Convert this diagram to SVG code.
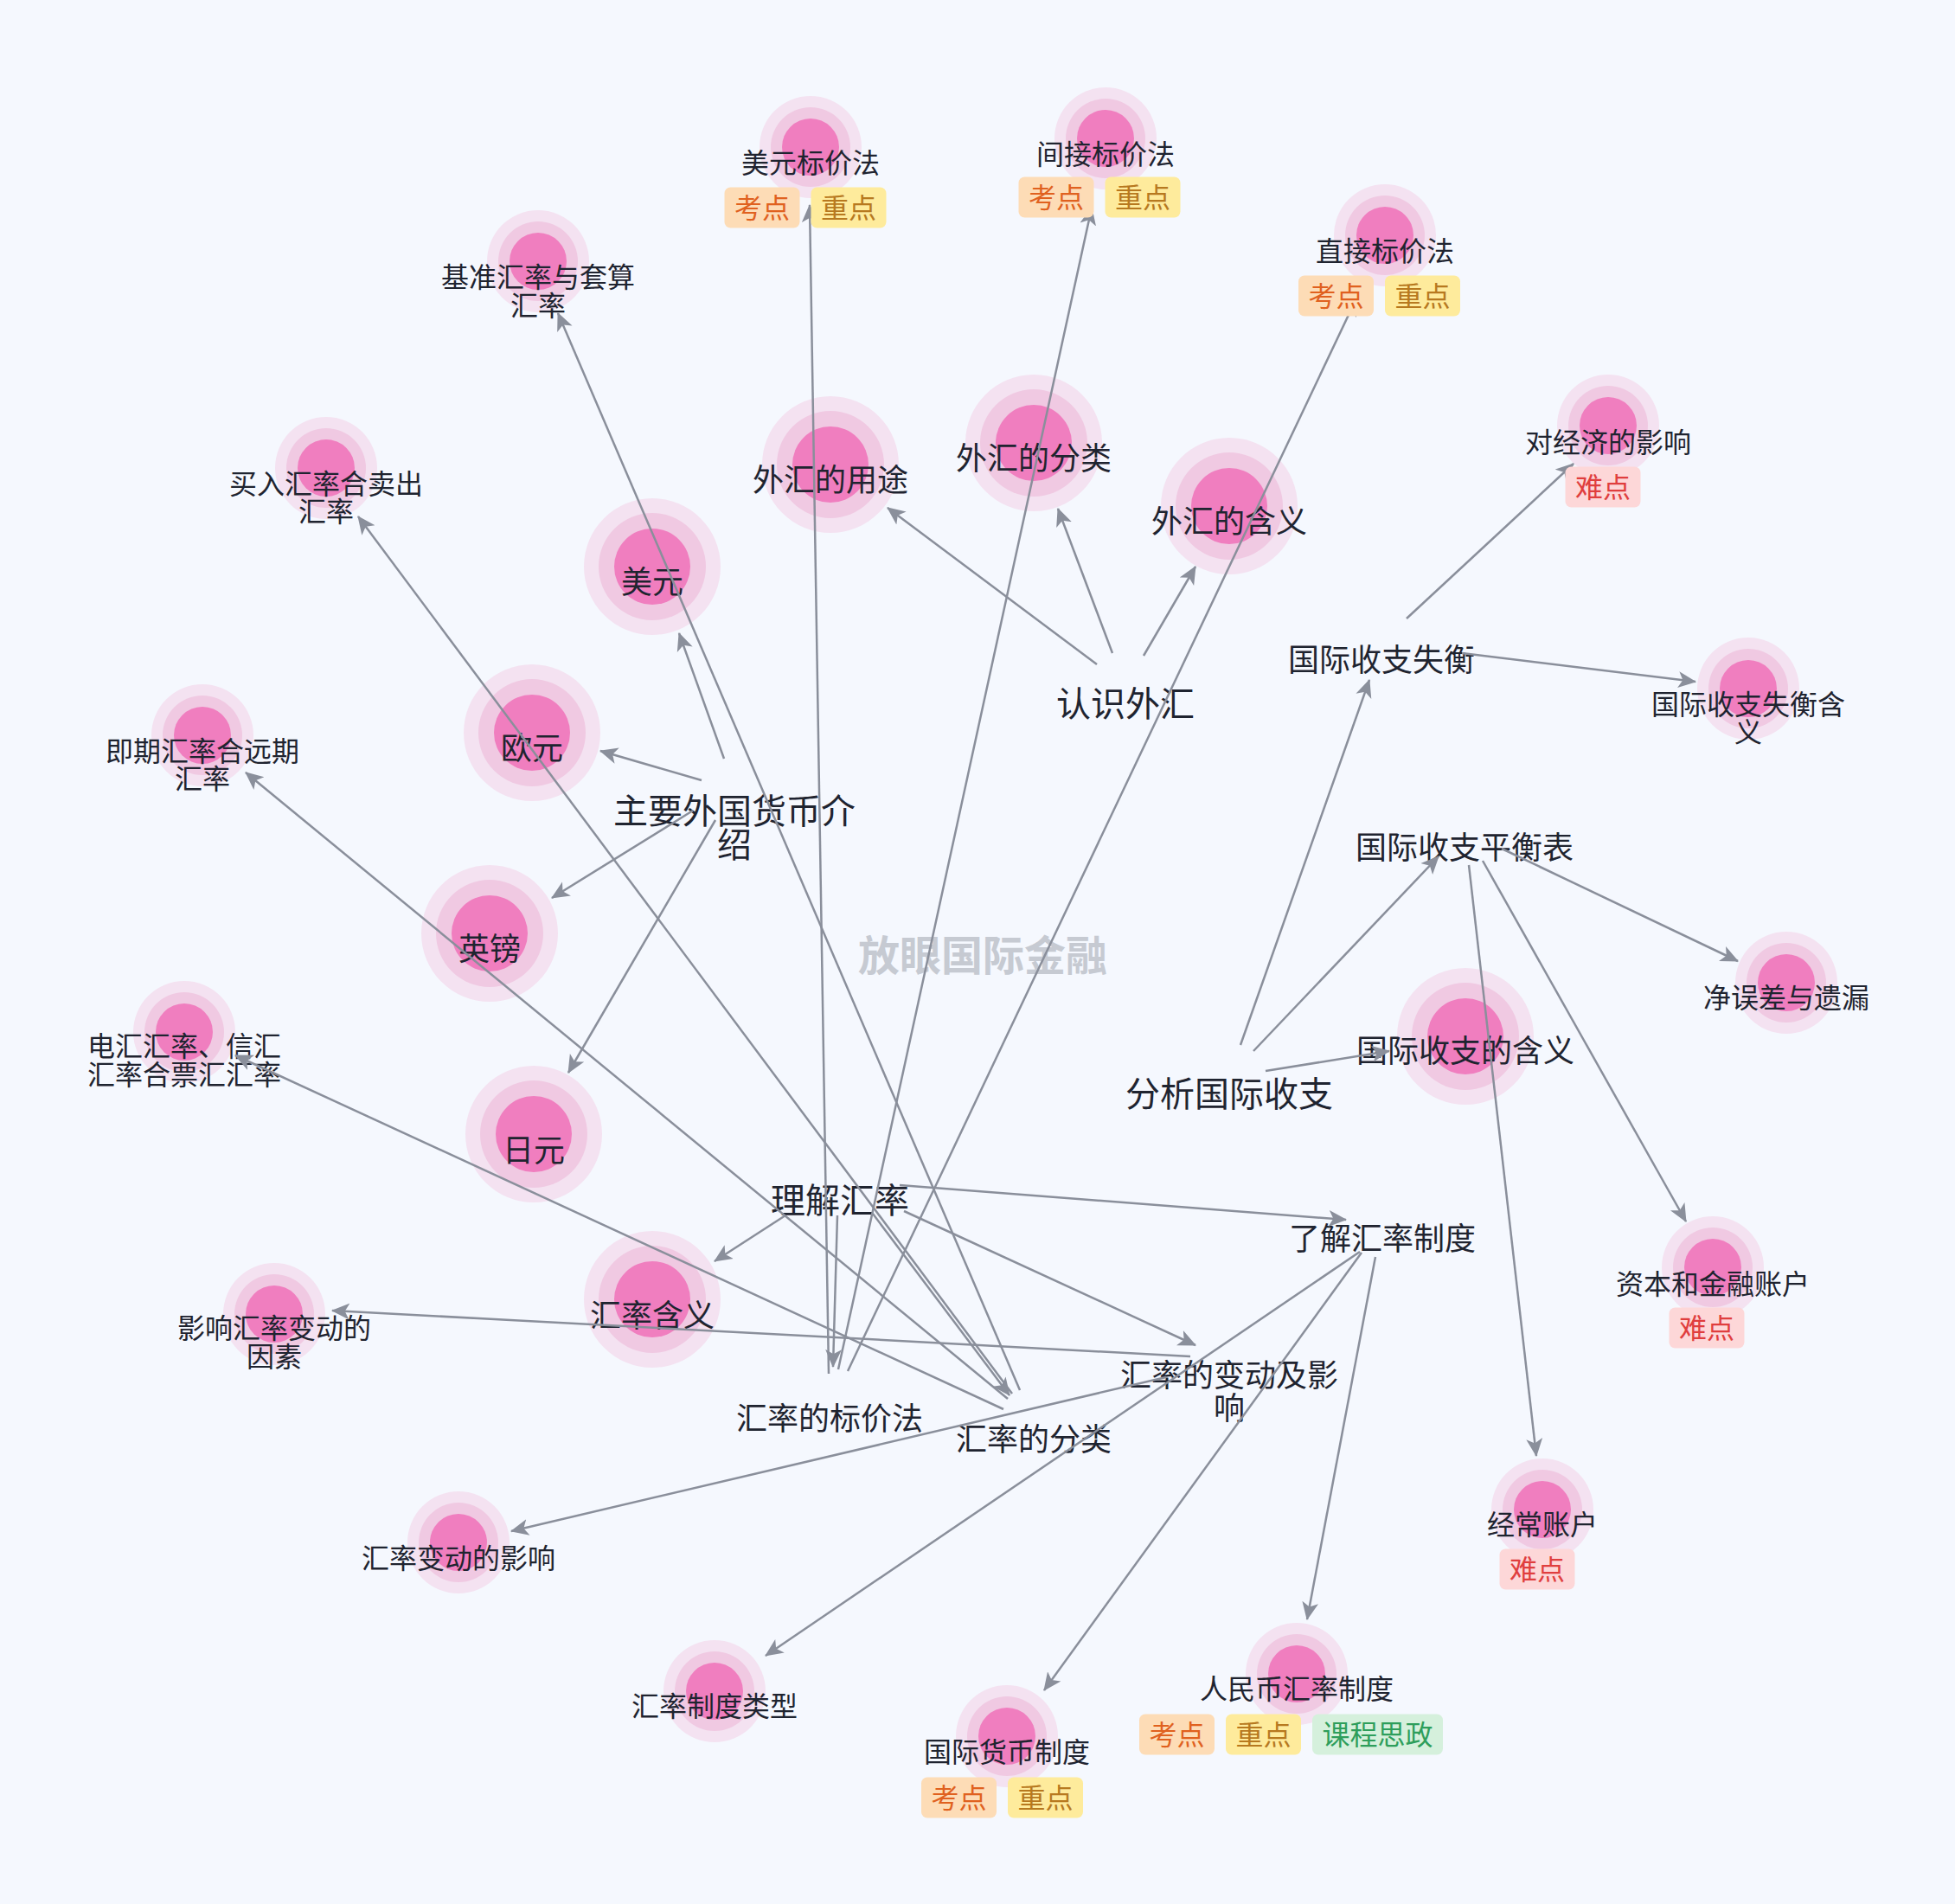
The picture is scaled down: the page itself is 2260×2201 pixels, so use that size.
<svg xmlns="http://www.w3.org/2000/svg" width="2260" height="2201" viewBox="0 0 2260 2201">
<defs>
<style>
.h3{fill:#F4E2F1}
.h2{fill:#F0C9E2}
.h1{fill:#F07EBF}
text{font-family:"Noto Sans CJK SC","Noto Sans",sans-serif;text-anchor:middle;dominant-baseline:central;fill:#1F2430}
.f32{font-size:32px}
.f36{font-size:36px}
.f40{font-size:40px}
.wm{font-size:48px;font-weight:bold;fill:#C6CAD2}
.edge{stroke:#8A8F9B;stroke-width:2.5;fill:none;marker-end:url(#arr)}
.kd{fill:#FDDCB6}.tkd{fill:#E0611F;font-size:32px}
.zd{fill:#FEEB9C}.tzd{fill:#B7791F;font-size:32px}
.nd{fill:#FDD7D8}.tnd{fill:#E03E3E;font-size:32px}
.sz{fill:#D5F0DC}.tsz{fill:#2E9E5B;font-size:32px}
</style>
<marker id="arr" viewBox="0 0 20 20" refX="19" refY="10" markerWidth="21" markerHeight="21" markerUnits="userSpaceOnUse" orient="auto"><path d="M0,1 L20,10 L0,19 L5,10 Z" fill="#8A8F9B"/></marker>
</defs>
<rect width="2260" height="2201" fill="#F5F8FE"/>
<text id="root" class="wm" x="1136" y="1101">放眼国际金融</text>

<g id="nodes">
<g id="n-usd-quote"><circle cx="937" cy="170" r="59" class="h3"/><circle cx="937" cy="170" r="46" class="h2"/><circle cx="937" cy="170" r="33" class="h1"/><text class="f32" x="937" y="186">美元标价法</text></g>
<g id="n-indirect"><circle cx="1278" cy="160" r="59" class="h3"/><circle cx="1278" cy="160" r="46" class="h2"/><circle cx="1278" cy="160" r="33" class="h1"/><text class="f32" x="1278" y="176">间接标价法</text></g>
<g id="n-direct"><circle cx="1601" cy="272" r="59" class="h3"/><circle cx="1601" cy="272" r="46" class="h2"/><circle cx="1601" cy="272" r="33" class="h1"/><text class="f32" x="1601" y="288">直接标价法</text></g>
<g id="n-base"><circle cx="622" cy="302" r="59" class="h3"/><circle cx="622" cy="302" r="46" class="h2"/><circle cx="622" cy="302" r="33" class="h1"/><text class="f32" x="622" y="318">基准汇率与套算</text><text class="f32" x="622" y="351">汇率</text></g>
<g id="n-buysell"><circle cx="377" cy="541" r="59" class="h3"/><circle cx="377" cy="541" r="46" class="h2"/><circle cx="377" cy="541" r="33" class="h1"/><text class="f32" x="377" y="557">买入汇率合卖出</text><text class="f32" x="377" y="589">汇率</text></g>
<g id="n-spot"><circle cx="234" cy="850" r="59" class="h3"/><circle cx="234" cy="850" r="46" class="h2"/><circle cx="234" cy="850" r="33" class="h1"/><text class="f32" x="234" y="866">即期汇率合远期</text><text class="f32" x="234" y="898">汇率</text></g>
<g id="n-wire"><circle cx="213" cy="1193" r="59" class="h3"/><circle cx="213" cy="1193" r="46" class="h2"/><circle cx="213" cy="1193" r="33" class="h1"/><text class="f32" x="213" y="1207">电汇汇率、信汇</text><text class="f32" x="213" y="1240">汇率合票汇汇率</text></g>
<g id="n-factors"><circle cx="317" cy="1519" r="59" class="h3"/><circle cx="317" cy="1519" r="46" class="h2"/><circle cx="317" cy="1519" r="33" class="h1"/><text class="f32" x="317" y="1533">影响汇率变动的</text><text class="f32" x="317" y="1566">因素</text></g>
<g id="n-impact"><circle cx="530" cy="1783" r="59" class="h3"/><circle cx="530" cy="1783" r="46" class="h2"/><circle cx="530" cy="1783" r="33" class="h1"/><text class="f32" x="530" y="1799">汇率变动的影响</text></g>
<g id="n-regime-type"><circle cx="826" cy="1955" r="59" class="h3"/><circle cx="826" cy="1955" r="46" class="h2"/><circle cx="826" cy="1955" r="33" class="h1"/><text class="f32" x="826" y="1970">汇率制度类型</text></g>
<g id="n-intl-monetary"><circle cx="1164" cy="2007" r="59" class="h3"/><circle cx="1164" cy="2007" r="46" class="h2"/><circle cx="1164" cy="2007" r="33" class="h1"/><text class="f32" x="1164" y="2023">国际货币制度</text></g>
<g id="n-rmb"><circle cx="1499" cy="1935" r="59" class="h3"/><circle cx="1499" cy="1935" r="46" class="h2"/><circle cx="1499" cy="1935" r="33" class="h1"/><text class="f32" x="1499" y="1950">人民币汇率制度</text></g>
<g id="n-current"><circle cx="1783" cy="1745" r="59" class="h3"/><circle cx="1783" cy="1745" r="46" class="h2"/><circle cx="1783" cy="1745" r="33" class="h1"/><text class="f32" x="1783" y="1760">经常账户</text></g>
<g id="n-capital"><circle cx="1980" cy="1465" r="59" class="h3"/><circle cx="1980" cy="1465" r="46" class="h2"/><circle cx="1980" cy="1465" r="33" class="h1"/><text class="f32" x="1980" y="1482">资本和金融账户</text></g>
<g id="n-errors"><circle cx="2065" cy="1136" r="59" class="h3"/><circle cx="2065" cy="1136" r="46" class="h2"/><circle cx="2065" cy="1136" r="33" class="h1"/><text class="f32" x="2065" y="1151">净误差与遗漏</text></g>
<g id="n-imbalance-def"><circle cx="2021" cy="796" r="59" class="h3"/><circle cx="2021" cy="796" r="46" class="h2"/><circle cx="2021" cy="796" r="33" class="h1"/><text class="f32" x="2021" y="812">国际收支失衡含</text><text class="f32" x="2021" y="844">义</text></g>
<g id="n-economy"><circle cx="1859" cy="492" r="59" class="h3"/><circle cx="1859" cy="492" r="46" class="h2"/><circle cx="1859" cy="492" r="33" class="h1"/><text class="f32" x="1859" y="509">对经济的影响</text></g>

<g id="n-fx-use"><circle cx="960" cy="537" r="79" class="h3"/><circle cx="960" cy="537" r="62" class="h2"/><circle cx="960" cy="537" r="44" class="h1"/><text class="f36" x="960" y="552">外汇的用途</text></g>
<g id="n-fx-class"><circle cx="1195" cy="512" r="79" class="h3"/><circle cx="1195" cy="512" r="62" class="h2"/><circle cx="1195" cy="512" r="44" class="h1"/><text class="f36" x="1195" y="527">外汇的分类</text></g>
<g id="n-fx-def"><circle cx="1421" cy="585" r="79" class="h3"/><circle cx="1421" cy="585" r="62" class="h2"/><circle cx="1421" cy="585" r="44" class="h1"/><text class="f36" x="1421" y="600">外汇的含义</text></g>
<g id="n-usd"><circle cx="754" cy="655" r="79" class="h3"/><circle cx="754" cy="655" r="62" class="h2"/><circle cx="754" cy="655" r="44" class="h1"/><text class="f36" x="754" y="670">美元</text></g>
<g id="n-eur"><circle cx="615" cy="847" r="79" class="h3"/><circle cx="615" cy="847" r="62" class="h2"/><circle cx="615" cy="847" r="44" class="h1"/><text class="f36" x="615" y="862">欧元</text></g>
<g id="n-gbp"><circle cx="566" cy="1079" r="79" class="h3"/><circle cx="566" cy="1079" r="62" class="h2"/><circle cx="566" cy="1079" r="44" class="h1"/><text class="f36" x="566" y="1094">英镑</text></g>
<g id="n-jpy"><circle cx="617" cy="1311" r="79" class="h3"/><circle cx="617" cy="1311" r="62" class="h2"/><circle cx="617" cy="1311" r="44" class="h1"/><text class="f36" x="617" y="1327">日元</text></g>
<g id="n-rate-def"><circle cx="754" cy="1502" r="79" class="h3"/><circle cx="754" cy="1502" r="62" class="h2"/><circle cx="754" cy="1502" r="44" class="h1"/><text class="f36" x="754" y="1518">汇率含义</text></g>
<g id="n-bop-def"><circle cx="1694" cy="1198" r="79" class="h3"/><circle cx="1694" cy="1198" r="62" class="h2"/><circle cx="1694" cy="1198" r="44" class="h1"/><text class="f36" x="1694" y="1212">国际收支的含义</text></g>

<g id="n-know-fx"><text class="f40" x="1301" y="811">认识外汇</text></g>
<g id="n-currencies"><text class="f40" x="849" y="935">主要外国货币介</text><text class="f40" x="849" y="974">绍</text></g>
<g id="n-understand-rate"><text class="f40" x="971" y="1385">理解汇率</text></g>
<g id="n-analyze-bop"><text class="f40" x="1421" y="1262">分析国际收支</text></g>
<g id="n-regime"><text class="f36" x="1598" y="1429">了解汇率制度</text></g>
<g id="n-imbalance"><text class="f36" x="1597" y="760">国际收支失衡</text></g>
<g id="n-bop-table"><text class="f36" x="1693" y="977">国际收支平衡表</text></g>
<g id="n-quote"><text class="f36" x="959" y="1637">汇率的标价法</text></g>
<g id="n-rate-class"><text class="f36" x="1195" y="1661">汇率的分类</text></g>
<g id="n-rate-change"><text class="f36" x="1421" y="1587">汇率的变动及影</text><text class="f36" x="1421" y="1625">响</text></g>
</g>

<g id="connectors">
<line class="edge" x1="1268" y1="768" x2="1026" y2="587"/>
<line class="edge" x1="1286" y1="755" x2="1223" y2="588"/>
<line class="edge" x1="1322" y1="758" x2="1382" y2="655"/>
<line class="edge" x1="837" y1="877" x2="785" y2="732"/>
<line class="edge" x1="811" y1="902" x2="694" y2="868"/>
<line class="edge" x1="801" y1="937" x2="638" y2="1038"/>
<line class="edge" x1="827" y1="948" x2="657" y2="1240"/>
<line class="edge" x1="1040" y1="1370" x2="1556" y2="1410"/>
<line class="edge" x1="1045" y1="1400" x2="1382" y2="1555"/>
<line class="edge" x1="908" y1="1405" x2="826" y2="1458"/>
<line class="edge" x1="968" y1="1405" x2="963" y2="1580"/>
<line class="edge" x1="1009" y1="1403" x2="1167" y2="1613"/>
<line class="edge" x1="1572" y1="1447" x2="885" y2="1914"/>
<line class="edge" x1="1574" y1="1448" x2="1207" y2="1954"/>
<line class="edge" x1="1590" y1="1453" x2="1511" y2="1872"/>
<line class="edge" x1="1434" y1="1208" x2="1583" y2="786"/>
<line class="edge" x1="1449" y1="1215" x2="1663" y2="990"/>
<line class="edge" x1="1463" y1="1238" x2="1606" y2="1215"/>
<line class="edge" x1="1626" y1="715" x2="1819" y2="536"/>
<line class="edge" x1="1690" y1="755" x2="1960" y2="788"/>
<line class="edge" x1="1736" y1="981" x2="2009" y2="1111"/>
<line class="edge" x1="1698" y1="1000" x2="1776" y2="1683"/>
<line class="edge" x1="1714" y1="995" x2="1949" y2="1412"/>
<line class="edge" x1="958" y1="1588" x2="936" y2="237"/>
<line class="edge" x1="969" y1="1583" x2="1262" y2="240"/>
<line class="edge" x1="980" y1="1585" x2="1568" y2="345"/>
<line class="edge" x1="1179" y1="1607" x2="645" y2="362"/>
<line class="edge" x1="1170" y1="1611" x2="414" y2="597"/>
<line class="edge" x1="1165" y1="1617" x2="284" y2="893"/>
<line class="edge" x1="1160" y1="1629" x2="272" y2="1220"/>
<line class="edge" x1="1376" y1="1568" x2="384" y2="1515"/>
<line class="edge" x1="1348" y1="1592" x2="591" y2="1770"/>
</g>

<g id="tags">
<g id="tags-usd-quote"><rect x="837.5" y="216.5" width="87" height="47" rx="7" class="kd"/><text class="tkd" x="881" y="238">考点</text><rect x="937.5" y="216.5" width="87" height="47" rx="7" class="zd"/><text class="tzd" x="981" y="238">重点</text></g>
<g id="tags-indirect"><rect x="1177.5" y="204.5" width="87" height="47" rx="7" class="kd"/><text class="tkd" x="1221" y="226">考点</text><rect x="1277.5" y="204.5" width="87" height="47" rx="7" class="zd"/><text class="tzd" x="1321" y="226">重点</text></g>
<g id="tags-direct"><rect x="1501" y="318.5" width="87" height="47" rx="7" class="kd"/><text class="tkd" x="1544.5" y="340">考点</text><rect x="1601" y="318.5" width="87" height="47" rx="7" class="zd"/><text class="tzd" x="1644.5" y="340">重点</text></g>
<g id="tags-intl-monetary"><rect x="1065" y="2054.5" width="87" height="47" rx="7" class="kd"/><text class="tkd" x="1108.5" y="2076">考点</text><rect x="1165" y="2054.5" width="87" height="47" rx="7" class="zd"/><text class="tzd" x="1208.5" y="2076">重点</text></g>
<g id="tags-rmb"><rect x="1317" y="1981.5" width="87" height="47" rx="7" class="kd"/><text class="tkd" x="1360.5" y="2003">考点</text><rect x="1417" y="1981.5" width="87" height="47" rx="7" class="zd"/><text class="tzd" x="1460.5" y="2003">重点</text><rect x="1517" y="1981.5" width="151" height="47" rx="7" class="sz"/><text class="tsz" x="1592.5" y="2003">课程思政</text></g>
<g id="tags-current"><rect x="1733.5" y="1790.5" width="87" height="47" rx="7" class="nd"/><text class="tnd" x="1777" y="1812">难点</text></g>
<g id="tags-capital"><rect x="1929.5" y="1511.5" width="87" height="47" rx="7" class="nd"/><text class="tnd" x="1973" y="1533">难点</text></g>
<g id="tags-economy"><rect x="1809.5" y="539.5" width="87" height="47" rx="7" class="nd"/><text class="tnd" x="1853" y="561">难点</text></g>
</g>
</svg>
